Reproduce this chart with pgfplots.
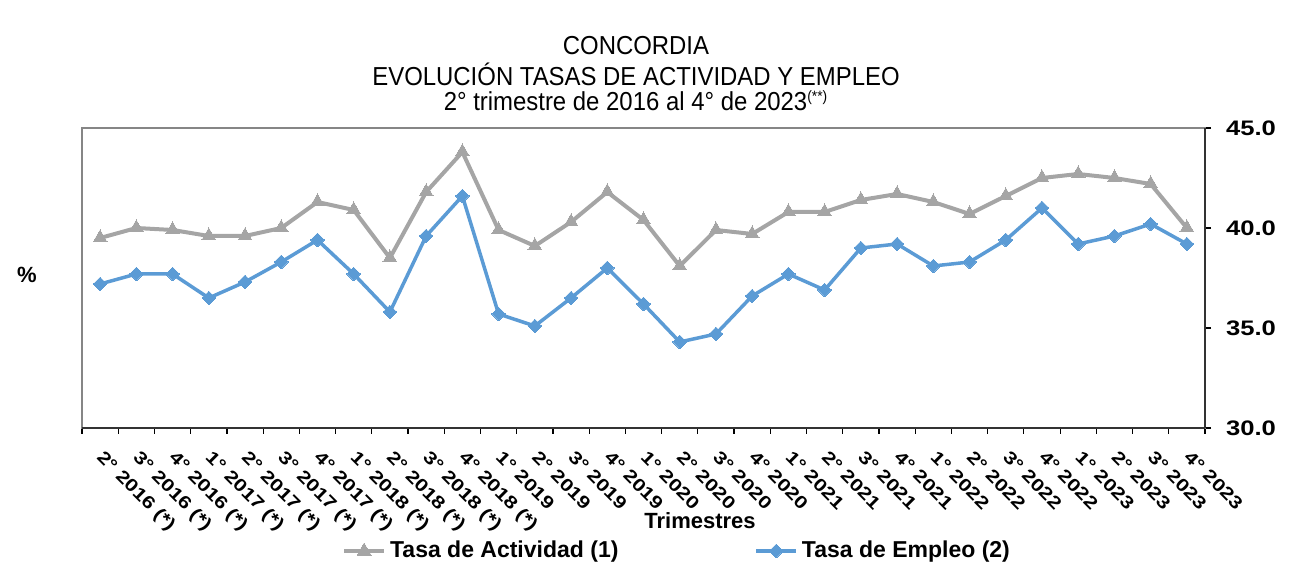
\documentclass[border=0pt]{standalone}
\usepackage{pgfplots}
\pgfplotsset{compat=1.18}
\usepackage{fontspec}
\setmainfont{Liberation Sans}[FakeStretch=0.92]
\newfontfamily\widefont{Liberation Sans}[FakeStretch=1.22]
\newfontfamily\plainfont{Liberation Sans}
\definecolor{actgray}{HTML}{A5A5A5}
\definecolor{empblue}{HTML}{5B9BD5}
\definecolor{frame}{HTML}{868686}
\begin{document}
\begin{tikzpicture}
\useasboundingbox (-41pt,-72pt) rectangle (608.5pt,214pt);
\begin{axis}[
  at={(0pt,0pt)}, anchor=south west,
  width=561.5pt, height=150pt, scale only axis,
  xmin=-0.5, xmax=30.5, ymin=30, ymax=45,
  axis line style={frame, line width=0.9pt},
  ytick={30,35,40,45},
  ytick pos=right, yticklabel pos=right,
  xtick pos=bottom,
  tick align=outside,
  major tick length=3pt,
  tick style={black, line width=0.6pt},
  yticklabel style={font=\widefont\bfseries\fontsize{10.5}{12}\selectfont, xshift=4pt, /pgf/number format/.cd, fixed, fixed zerofill, precision=1, assume math mode=true},
  xtick={0,...,30},
  major x tick style={draw=none},
  minor xtick={-0.5,0.5,...,30.5},
  minor tick length=3pt,
  minor tick style={black, line width=0.6pt},
  xticklabels={{2° 2016 (*)},{3° 2016 (*)},{4° 2016 (*)},{1° 2017 (*)},{2° 2017 (*)},{3° 2017 (*)},{4° 2017 (*)},{1° 2018 (*)},{2° 2018 (*)},{3° 2018 (*)},{4° 2018 (*)},{1° 2019},{2° 2019},{3° 2019},{4° 2019},{1° 2020},{2° 2020},{3° 2020},{4° 2020},{1° 2021},{2° 2021},{3° 2021},{4° 2021},{1° 2022},{2° 2022},{3° 2022},{4° 2022},{1° 2023},{2° 2023},{3° 2023},{4° 2023}},
  xticklabel style={rotate=-45, anchor=north west, font=\widefont\bfseries\fontsize{8.8}{9}\selectfont, inner sep=1pt, xshift=6pt, yshift=-2.5pt},
  legend columns=2,
  legend style={at={(298pt,-61.5pt)}, anchor=center, draw=none, fill=none, font=\plainfont\bfseries\fontsize{11.5}{13}\selectfont, /tikz/every even column/.append style={column sep=66pt}},
  legend image code/.code={\draw[#1] (0pt,0pt) -- (10pt,0pt) (10pt,0pt) -- (20pt,0pt); \path[#1, mark repeat=1] plot coordinates {(10pt,0pt)};},
  clip=false,
]
\addplot[actgray, line width=2pt, mark=triangle*, mark size=4pt, mark options={solid, actgray, line width=0pt}] coordinates {
(0,39.5) (1,40.0) (2,39.9) (3,39.6) (4,39.6) (5,40.0) (6,41.3) (7,40.9) (8,38.5) (9,41.8) (10,43.8)
(11,39.9) (12,39.1) (13,40.3) (14,41.8) (15,40.4) (16,38.1) (17,39.9) (18,39.7) (19,40.8) (20,40.8)
(21,41.4) (22,41.7) (23,41.3) (24,40.7) (25,41.6) (26,42.5) (27,42.7) (28,42.5) (29,42.2) (30,40.0)};
\addlegendentry{Tasa de Actividad (1)}
\addplot[empblue, line width=1.75pt, mark=square*, mark size=2.4pt, mark options={solid, empblue, rotate=45, line width=0pt}] coordinates {
(0,37.2) (1,37.7) (2,37.7) (3,36.5) (4,37.3) (5,38.3) (6,39.4) (7,37.7) (8,35.8) (9,39.6) (10,41.6)
(11,35.7) (12,35.1) (13,36.5) (14,38.0) (15,36.2) (16,34.3) (17,34.7) (18,36.6) (19,37.7) (20,36.9)
(21,39.0) (22,39.2) (23,38.1) (24,38.3) (25,39.4) (26,41.0) (27,39.2) (28,39.6) (29,40.2) (30,39.2)};
\addlegendentry{Tasa de Empleo (2)}
\end{axis}
\draw[black!80, line width=0.9pt] (561.5pt,0pt) -- (561.5pt,150pt);
\draw[black!80, line width=0.9pt] (0pt,0pt) -- (561.5pt,0pt);
\node[font=\fontsize{13}{15}\selectfont] at (277pt,191pt) {CONCORDIA};
\node[font=\fontsize{13}{15}\selectfont] at (277pt,177pt) {EVOLUCIÓN TASAS DE ACTIVIDAD Y EMPLEO};
\node[font=\fontsize{13}{15}\selectfont] at (277pt,163.5pt) {2° trimestre de 2016 al 4° de 2023\textsuperscript{\fontsize{7.5}{8}\selectfont(**)}};
\node[font=\plainfont\bfseries\fontsize{11}{12}\selectfont] at (-27.5pt,76.5pt) {\%};
\node[font=\plainfont\bfseries\fontsize{11}{13}\selectfont] at (309pt,-46.5pt) {Trimestres};
\end{tikzpicture}
\end{document}
